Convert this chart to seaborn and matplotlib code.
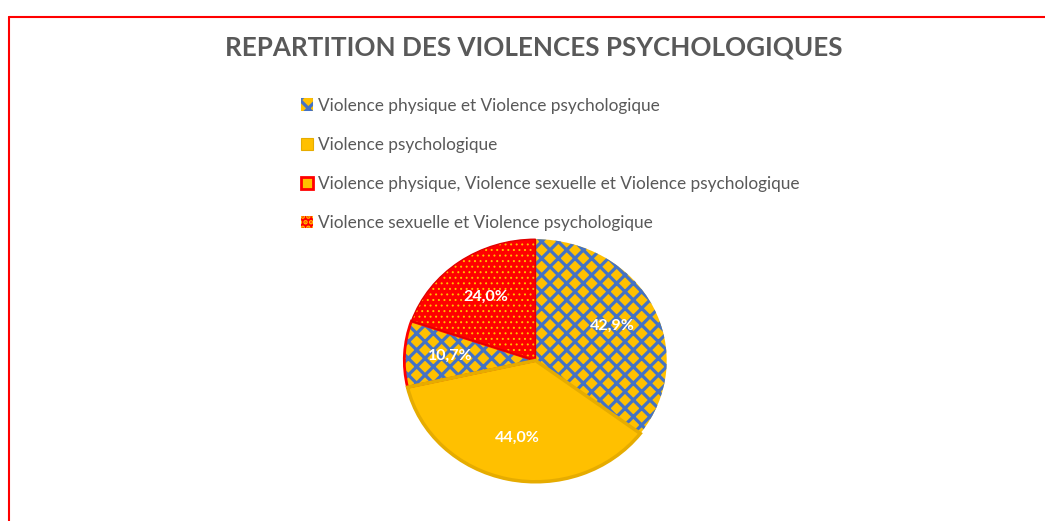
import matplotlib
matplotlib.use("Agg")
import matplotlib.pyplot as plt
from matplotlib.lines import Line2D
from matplotlib.patches import Patch
import seaborn as sns

# Data
categories = [
    "Violence physique et Violence psychologique",
    "Violence psychologique",
    "Violence physique, Violence sexuelle et Violence psychologique",
    "Violence sexuelle et Violence psychologique",
]
values = [42.9, 44.0, 10.7, 24.0]
value_labels = ["42,9%", "44,0%", "10,7%", "24,0%"]

sns.set_theme(style="white")
plt.rcParams["font.family"] = ["Lato", "DejaVu Sans"]
plt.rcParams["hatch.linewidth"] = 2.3

yellow = "#FFC000"
blue = "#4472C4"
red = "#FF0000"
gray = "#595959"
dark_yellow = "#E6AC00"

fills = [yellow, yellow, yellow, red]
hatch_cols = [blue, dark_yellow, blue, yellow]
hatches = ["xx", None, "xx", "..."]
hatch_lw = [2.3, 1.0, 2.3, 0.7]
outlines = ["none", dark_yellow, red, "#E00000"]
outline_w = [0, 2.5, 2.0, 1.0]

fig = plt.figure(figsize=(10.45, 5.21), dpi=100)
ax = fig.add_axes([403 / 1045, 38 / 521, 265 / 1045, 245 / 521])

wedges, _, autotexts = ax.pie(
    values, startangle=90, counterclock=False, radius=1,
    autopct=lambda p: "", pctdistance=0.65,
)
for i, w in enumerate(wedges):
    w.set_facecolor(fills[i])
    w.set_edgecolor(hatch_cols[i])
    w.set_linewidth(0.01)
    if hatches[i]:
        w.set_hatch(hatches[i])
        if hasattr(w, "set_hatch_linewidth"):
            w.set_hatch_linewidth(hatch_lw[i])
    autotexts[i].set_text(value_labels[i])
    autotexts[i].set_color("white")
    autotexts[i].set_fontweight("bold")
    autotexts[i].set_fontsize(11.5)
    autotexts[i].set_zorder(5)

# outlines on top
outline_wedges, _ = ax.pie(values, startangle=90, counterclock=False, radius=1)
for i, w in enumerate(outline_wedges):
    w.set_facecolor("none")
    w.set_edgecolor(outlines[i])
    w.set_linewidth(outline_w[i])
outline_wedges[1].set_zorder(3)

ax.set_aspect("auto")
ax.set_xlim(-1.01, 1.01)
ax.set_ylim(-1.01, 1.01)

fig.text(0.511, 1 - 47 / 521, "REPARTITION DES VIOLENCES PSYCHOLOGIQUES",
         ha="center", va="center", fontsize=18.7, fontweight="bold", color=gray)

handles = [
    Patch(facecolor=yellow, edgecolor=blue, hatch="xx", lw=0.01),
    Patch(facecolor=yellow, edgecolor=dark_yellow, lw=0.8),
    Patch(facecolor=yellow, edgecolor=red, lw=2.0),
    Patch(facecolor=red, edgecolor=yellow, hatch="...", lw=0.01),
]
leg = fig.legend(handles, categories, loc="upper left",
                 bbox_to_anchor=(285 / 1045, 1 - 82 / 521), frameon=False,
                 fontsize=12.4, labelspacing=1.35, handlelength=0.7,
                 handleheight=0.7, handletextpad=0.3, labelcolor=gray)

# red frame (left and top sides)
fig.add_artist(Line2D([8.5 / 1045, 8.5 / 1045], [0, 1 - 16.5 / 521],
                      transform=fig.transFigure, color=red, lw=1.5))
fig.add_artist(Line2D([8.5 / 1045, 1], [1 - 16.5 / 521, 1 - 16.5 / 521],
                      transform=fig.transFigure, color=red, lw=1.5))

fig.savefig("out.png", dpi=100)
